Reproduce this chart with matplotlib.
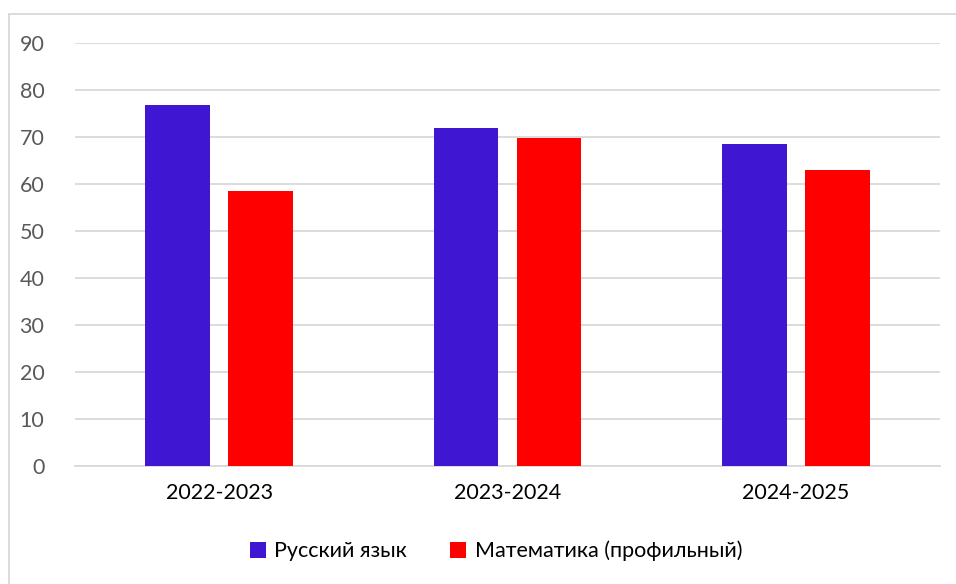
import numpy as np
import matplotlib.pyplot as plt
from matplotlib.patches import Rectangle

# данные
years = ["2022-2023", "2023-2024", "2024-2025"]
russian = [76.9, 72.0, 68.6]
math_prof = [58.5, 69.7, 63.0]
names = ["Русский язык", "Математика (профильный)"]

plt.rcParams["font.family"] = ["Lato", "DejaVu Sans"]

fig = plt.figure(figsize=(9.56, 5.84), dpi=100)
ax = fig.add_axes([75 / 956, 1 - 466 / 584, 865 / 956, 423 / 584])

x = np.arange(len(years))
w = 0.225
off = 0.144
ax.bar(x - off, russian, w, color="#3F17D3", label=names[0], zorder=3)
ax.bar(x + off, math_prof, w, color="#FF0000", label=names[1], zorder=3)

ax.set_xlim(-0.5, 2.5)
ax.set_ylim(0, 90)
ax.set_yticks(range(0, 91, 10))
ax.set_xticks(x)
ax.set_xticklabels(years)
ax.yaxis.grid(True, color="#D9D9D9", linewidth=1.3, zorder=0)
for s in ["top", "right", "left"]:
    ax.spines[s].set_visible(False)
ax.spines["bottom"].set_color("#D9D9D9")
ax.spines["bottom"].set_linewidth(1.3)
ax.tick_params(axis="y", length=0, pad=22, labelsize=15.5, labelcolor="#595959")
ax.tick_params(axis="x", length=0, pad=12, labelsize=15.5, labelcolor="#000000")

leg = fig.legend(loc="center", bbox_to_anchor=(496 / 956, 1 - 551 / 584), ncol=2,
                 frameon=False, fontsize=15.5, handlelength=0.75, handleheight=0.75,
                 handletextpad=0.4, columnspacing=2.0)

# рамка
fig.add_artist(Rectangle((9 / 956, -0.1), 1.2, 1 - 14 / 584 + 0.1,
                         transform=fig.transFigure, fill=False,
                         edgecolor="#D9D9D9", linewidth=1.3))

fig.savefig("out.png", dpi=100)
